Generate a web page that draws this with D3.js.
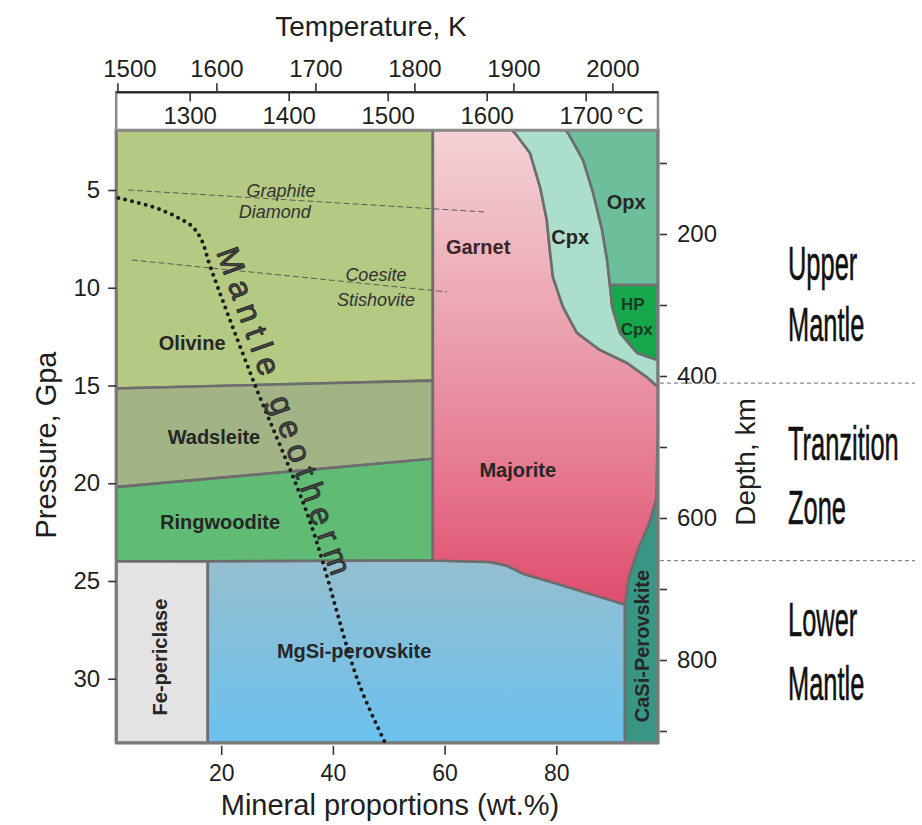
<!DOCTYPE html>
<html>
<head>
<meta charset="utf-8">
<script src="https://cdn.jsdelivr.net/npm/d3@7"></script>
<style>
  body { margin: 0; background: #fff; }
  svg { display: block; font-family: "Liberation Sans", Arial, Helvetica, sans-serif; }
</style>
</head>
<body>
<svg id="chart" width="922" height="825"></svg>
<script>
// ---- axis ticks ----
const tempTicksK = [1500, 1600, 1700, 1800, 1900, 2000];
const tempTicksC = [1300, 1400, 1500, 1600, 1700];
const pressureTicks = [5, 10, 15, 20, 25, 30];
const depthTicks = [100, 200, 300, 400, 500, 600, 700, 800, 900];
const depthLabels = [200, 400, 600, 800];
const proportionTicks = [20, 40, 60, 80];

// ---- diagram extent (wt.% , GPa) ----
const wtRange = [1.2, 98.2];
const pRange = [1.93, 33.28];

// ---- phase boundaries, points are [wt.%, GPa] ----
const olWadBoundary = [[1.2, 15.15], [57.9, 14.75]];
const wadRingBoundary = [[1.2, 20.2], [57.9, 18.75]];
const majoriteLeft = 57.9;
const lowerMantleTop = [[1.2, 24.0], [57.9, 23.95], [68.1, 24.03], [71.0, 24.2], [74.2, 24.64],
                        [80.3, 25.15], [86.6, 25.71], [91.4, 26.12], [92.3, 26.2]];
const garnetCpxBoundary = [[72.0, 1.93], [72.6, 2.08], [75.3, 3.11], [77.1, 4.85], [78.3, 6.54],
                           [78.9, 8.22], [79.4, 9.45], [81.2, 10.98], [83.7, 12.31], [87.8, 13.18],
                           [92.7, 13.85], [96.2, 14.57], [98.2, 15.08]];
const cpxOpxBoundary = [[81.6, 1.93], [82.1, 2.08], [84.8, 3.47], [86.6, 5.15], [88.2, 7.04],
                        [89.1, 8.58], [89.6, 9.86]];
const hpCpxBoundary = [[89.6, 9.86], [90.0, 10.98], [91.4, 12.31], [94.5, 13.34], [98.0, 13.69], [98.2, 13.7]];
const opxBase = 9.86;
const caSiBoundary = [[92.3, 26.2], [92.9, 24.9], [94.6, 23.4], [96.8, 21.9], [97.9, 20.8], [98.2, 17.0]];
const fePericlaseRight = 17.6;
const mgSiRight = 92.3;

// ---- reaction lines [wt.%, GPa] ----
const graphiteDiamond = [[3.3, 5.0], [67.6, 6.13]];
const coesiteStishovite = [[4.0, 8.58], [60.4, 10.21]];

// ---- mantle geotherm: temperature (K) vs pressure (GPa) ----
const geothermT = [1501, 1536, 1560, 1576, 1585, 1594, 1637, 1694, 1743, 1770];
const geothermP = [5.41, 5.87, 6.38, 6.89, 7.56, 8.94, 14.72, 21.88, 30.11, 33.23];

// ---- seismic discontinuities (km) ----
const discontinuities = [410, 660];

// ---- scales ----
const x = d3.scaleLinear().domain([0, 100]).range([109.5, 668]);
const y = d3.scaleLinear().domain([0, 35]).range([92.25, 776.5]);
const tK = d3.scaleLinear().domain([1500, 2000]).range([117.4, 612.4]);
const tC = d3.scaleLinear().domain([1500 - 273, 2000 - 273]).range(tK.range());
const depth = d3.scaleLinear().domain([0, 1000]).range([92, 802]);

const svg = d3.select("#chart");
const defs = svg.append("defs");

const gGarnet = defs.append("linearGradient").attr("id", "garnetGrad")
  .attr("gradientUnits", "userSpaceOnUse")
  .attr("x1", 0).attr("x2", 0).attr("y1", y(pRange[0])).attr("y2", y(26.2));
[[0, "#f3d2d5"], [0.4, "#eca4b1"], [0.75, "#e5748c"], [1, "#df4d6d"]].forEach(s =>
  gGarnet.append("stop").attr("offset", s[0]).attr("stop-color", s[1]));

const gPv = defs.append("linearGradient").attr("id", "pvGrad")
  .attr("gradientUnits", "userSpaceOnUse")
  .attr("x1", 0).attr("x2", 0).attr("y1", y(24)).attr("y2", y(pRange[1]));
[[0, "#94bfcf"], [1, "#6bc1ef"]].forEach(s =>
  gPv.append("stop").attr("offset", s[0]).attr("stop-color", s[1]));

const P = d => [x(d[0]), y(d[1])];
const poly = pts => "M" + pts.map(p => P(p).join(",")).join("L") + "Z";
const rev = a => a.slice().reverse();

const [wL, wR] = wtRange;
const [pT, pB] = pRange;

// ---- phase fields ----
const fields = [
  { fill: "#b4c981", pts: [[wL, pT], [majoriteLeft, pT], ...rev(olWadBoundary)] },
  { fill: "#a2b385", pts: [...olWadBoundary, ...rev(wadRingBoundary)] },
  { fill: "#60bb75", pts: [...wadRingBoundary, lowerMantleTop[1], lowerMantleTop[0]] },
  { fill: "#e3e3e3", pts: [[wL, 24.0], [fePericlaseRight, 24.0], [fePericlaseRight, pB], [wL, pB]] },
  { fill: "url(#pvGrad)", pts: [[fePericlaseRight, 24.0], ...lowerMantleTop.slice(1), [mgSiRight, pB], [fePericlaseRight, pB]] },
  { fill: "#3a9684", pts: [...caSiBoundary, [wR, pB], [mgSiRight, pB]] },
  { fill: "url(#garnetGrad)", pts: [[majoriteLeft, pT], ...lowerMantleTop.slice(1), ...caSiBoundary.slice(1),
      ...rev(garnetCpxBoundary)] },
  { fill: "#abdecb", pts: [...garnetCpxBoundary, ...rev(hpCpxBoundary), ...rev(cpxOpxBoundary)] },
  { fill: "#6dbf9c", pts: [...cpxOpxBoundary, [wR, opxBase], [wR, pT]] },
  { fill: "#17a74b", pts: [[89.6, opxBase], [wR, opxBase], ...rev(hpCpxBoundary)] }
];

svg.append("g").selectAll("path").data(fields).join("path")
  .attr("d", d => poly(d.pts))
  .attr("fill", d => d.fill)
  .attr("stroke", "#6d6d6d")
  .attr("stroke-width", 2.6)
  .attr("stroke-linejoin", "round");

// ---- reaction lines ----
const line = d3.line().x(d => x(d[0])).y(d => y(d[1]));
svg.append("g").selectAll("path").data([graphiteDiamond, coesiteStishovite]).join("path")
  .attr("d", line)
  .attr("fill", "none")
  .attr("stroke", "#5a5a5a")
  .attr("stroke-width", 1)
  .attr("stroke-dasharray", "6,3");

// ---- frame ----
svg.append("rect")
  .attr("x", x(wL)).attr("y", y(pT))
  .attr("width", x(wR) - x(wL)).attr("height", y(pB) - y(pT))
  .attr("fill", "none").attr("stroke", "#7a7a7a").attr("stroke-width", 3);

// ---- temperature box ----
svg.append("rect")
  .attr("x", x(wL)).attr("y", y(0))
  .attr("width", x(wR) - x(wL)).attr("height", y(pT) - y(0))
  .attr("fill", "#fff").attr("stroke", "#8a8a8a").attr("stroke-width", 2.5);
svg.append("line")
  .attr("x1", x(wL)).attr("x2", x(wR)).attr("y1", y(0)).attr("y2", y(0))
  .attr("stroke", "#222").attr("stroke-width", 2);

function styleAxis(g, size) {
  g.select(".domain").remove();
  g.selectAll(".tick line").attr("stroke", "#333").attr("stroke-width", 1.6);
  g.selectAll(".tick text").attr("fill", "#1e1e1e")
    .style("font-size", (size || 24) + "px").style("font-family", "'Liberation Sans', Arial, sans-serif");
}

const axK = svg.append("g").attr("transform", `translate(0,${y(0)})`)
  .call(d3.axisTop(tK).tickValues(tempTicksK).tickSize(9).tickPadding(6).tickFormat(d3.format("d")))
  .call(styleAxis);
axK.selectAll(".tick text").filter(d => d === 1500).attr("dx", 12);

svg.append("g").attr("transform", `translate(0,${y(0)})`)
  .call(d3.axisBottom(tC).tickValues(tempTicksC).tickSize(9).tickPadding(6).tickFormat(d3.format("d")))
  .call(styleAxis);
svg.append("text").attr("x", tC(1700) + 31).attr("y", y(0) + 32)
  .attr("font-size", 24).attr("fill", "#1e1e1e").text("°C");

svg.append("g").attr("transform", `translate(${x(wL)},0)`)
  .call(d3.axisLeft(y).tickValues(pressureTicks).tickSize(8).tickPadding(8))
  .call(styleAxis);

svg.append("g").attr("transform", `translate(0,${y(pB) + 3})`)
  .call(d3.axisBottom(x).tickValues(proportionTicks).tickSize(9).tickPadding(10))
  .call(g => styleAxis(g, 23));

svg.append("g").attr("transform", `translate(${x(wR) + 2},0)`)
  .call(d3.axisRight(depth).tickValues(depthTicks).tickSize(7).tickPadding(10)
    .tickFormat(d => depthLabels.includes(d) ? d : ""))
  .call(styleAxis);

// ---- axis titles ----
svg.append("text").attr("x", 371).attr("y", 36).attr("text-anchor", "middle")
  .attr("font-size", 28).attr("fill", "#1e1e1e").text("Temperature, K");
svg.append("text").attr("x", 390).attr("y", 815).attr("text-anchor", "middle")
  .attr("font-size", 29).attr("fill", "#1e1e1e").text("Mineral proportions (wt.%)");
svg.append("text").attr("transform", "translate(56,445) rotate(-90)").attr("text-anchor", "middle")
  .attr("font-size", 29).attr("fill", "#1e1e1e").text("Pressure, Gpa");
svg.append("text").attr("transform", "translate(755,462) rotate(-90)").attr("text-anchor", "middle")
  .attr("font-size", 28).attr("fill", "#1e1e1e").text("Depth, km");

// ---- discontinuities ----
svg.append("g").selectAll("line").data(discontinuities).join("line")
  .attr("x1", x(wR) + 2).attr("x2", 915)
  .attr("y1", d => depth(d)).attr("y2", d => depth(d))
  .attr("stroke", "#8a8a8a").attr("stroke-width", 1.2).attr("stroke-dasharray", "4,3");

// ---- zone labels (condensed) ----
const zoneLabels = [["Upper", 280], ["Mantle", 341], ["Tranzition", 460], ["Zone", 524], ["Lower", 636], ["Mantle", 700]];
svg.append("g").selectAll("text").data(zoneLabels).join("text")
  .attr("transform", d => `translate(788,${d[1]}) scale(0.53,1)`)
  .attr("font-size", 48).attr("fill", "#111").attr("stroke", "#111").attr("stroke-width", 0.6)
  .text(d => d[0]);

// ---- mantle geotherm ----
const geo = geothermT.map((t, i) => [tK(t), y(geothermP[i])]);
svg.append("path")
  .attr("d", d3.line().curve(d3.curveCatmullRom.alpha(0.5))(geo))
  .attr("fill", "none").attr("stroke", "#1b1b1b").attr("stroke-width", 4)
  .attr("stroke-linecap", "round").attr("stroke-dasharray", "0,7");

svg.append("text")
  .attr("transform", "translate(216,252) rotate(70.4)")
  .attr("font-size", 32).attr("fill", "#444")
  .attr("stroke", "#222").attr("stroke-width", 0.8)
  .attr("textLength", 345).attr("lengthAdjust", "spacing")
  .text("Mantle geotherm");

// ---- phase labels, positioned in [wt.%, GPa] ----
const labels = [
  ["Olivine", 14.8, 12.83, 0], ["Wadsleite", 18.7, 17.64, 0], ["Ringwoodite", 19.8, 21.98, 0],
  ["Garnet", 66.0, 7.9, 0], ["Majorite", 73.1, 19.32, 0], ["Cpx", 82.5, 7.4, 0], ["Opx", 92.5, 5.61, 0],
  ["MgSi-perovskite", 43.8, 28.58, 0], ["Fe-periclase", 9.0, 28.89, -90], ["CaSi-Perovskite", 95.3, 28.33, -90]
];
svg.append("g").selectAll("text").data(labels).join("text")
  .attr("transform", d => `translate(${x(d[1])},${y(d[2])}) rotate(${d[3]})`)
  .attr("text-anchor", "middle").attr("dy", "0.35em")
  .attr("font-size", 20).attr("font-weight", "bold")
  .attr("fill", d => d[0] === "Garnet" ? "#3d2428" : "#262626")
  .text(d => d[0]);

svg.append("g").selectAll("text").data([["HP", 93.7, 10.83], ["Cpx", 94.4, 12.11]]).join("text")
  .attr("x", d => x(d[1])).attr("y", d => y(d[2])).attr("dy", "0.35em")
  .attr("text-anchor", "middle").attr("font-size", 17).attr("font-weight", "bold")
  .attr("fill", "#173a24").text(d => d[0]);

const reactionLabels = [["Graphite", 30.7, 5.05], ["Diamond", 29.6, 6.12], ["Coesite", 47.7, 9.35], ["Stishovite", 47.7, 10.62]];
svg.append("g").selectAll("text").data(reactionLabels).join("text")
  .attr("x", d => x(d[1])).attr("y", d => y(d[2])).attr("dy", "0.35em")
  .attr("text-anchor", "middle").attr("font-size", 18).attr("font-style", "italic")
  .attr("fill", "#333").text(d => d[0]);
</script>
</body>
</html>
